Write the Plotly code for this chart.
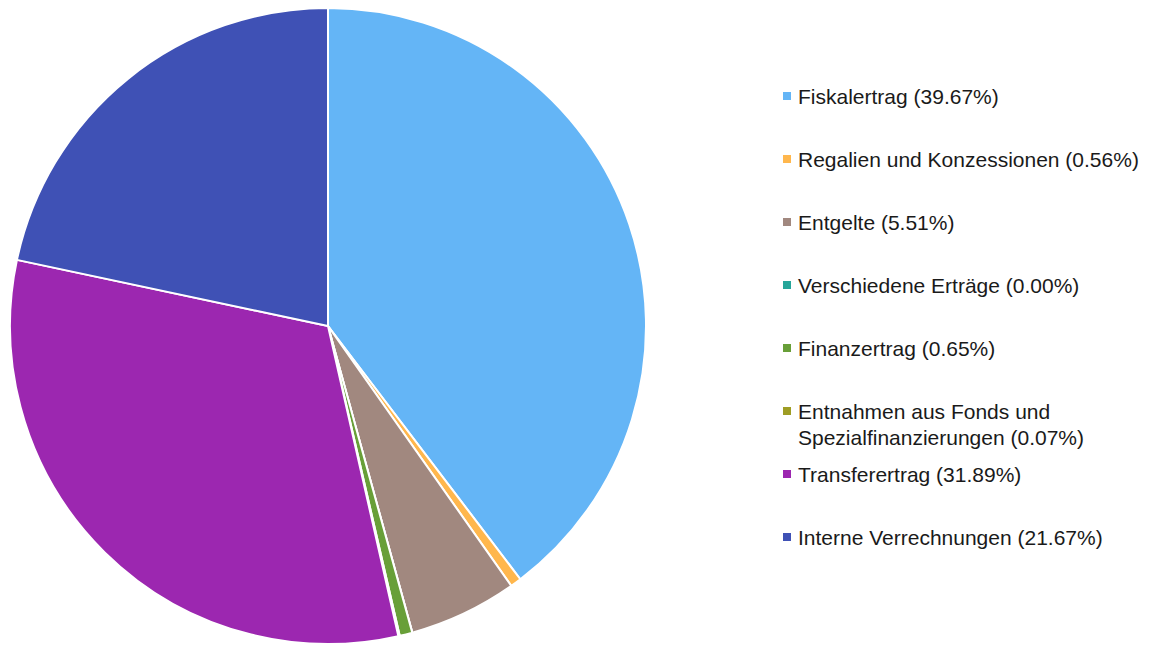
import plotly.graph_objects as go

categories = [
    "Fiskalertrag",
    "Regalien und Konzessionen",
    "Entgelte",
    "Verschiedene Erträge",
    "Finanzertrag",
    "Entnahmen aus Fonds und\nSpezialfinanzierungen",
    "Transferertrag",
    "Interne Verrechnungen",
]
values = [39.67, 0.56, 5.51, 0.00, 0.65, 0.07, 31.89, 21.67]
colors = ["#64B5F6", "#FFB74D", "#A1887F", "#26A69A", "#689F38", "#9E9D24", "#9C27B0", "#3F51B5"]

# the page body has an 8px margin, so the figure starts at (8, 8) on screen
OFF = 8
W, H = 1157 - OFF, 645 - OFF


def px_x(x):
    return (x - OFF) / W


def px_y(y):
    return 1 - (y - OFF) / H


fig = go.Figure()
fig.add_trace(go.Pie(
    labels=[c.replace("\n", " ") for c in categories],
    values=values,
    marker=dict(colors=colors, line=dict(color="white", width=2)),
    sort=False,
    direction="clockwise",
    rotation=0,
    textinfo="none",
    hoverinfo="label+percent",
    showlegend=False,
    domain=dict(x=[px_x(10), px_x(646)], y=[px_y(644), px_y(8)]),
))

annotations = []
shapes = []
y0 = 96
step = 63
line_gap = 26
for i, (cat, val, col) in enumerate(zip(categories, values, colors)):
    yc = y0 + step * i
    shapes.append(dict(
        type="rect", xref="paper", yref="paper",
        x0=px_x(783), x1=px_x(791),
        y0=px_y(yc - 4), y1=px_y(yc + 4),
        fillcolor=col, line=dict(width=0),
    ))
    lines = cat.split("\n")
    lines[-1] = f"{lines[-1]} ({val:.2f}%)"
    for j, ln in enumerate(lines):
        annotations.append(dict(
            x=px_x(796), y=px_y(yc + line_gap * j),
            xref="paper", yref="paper",
            xanchor="left", yanchor="middle",
            text=ln, showarrow=False,
            font=dict(family="Liberation Sans", size=21, color="#1a1a1a"),
        ))

fig.update_layout(
    width=W, height=H,
    margin=dict(l=0, r=0, t=0, b=0),
    paper_bgcolor="white",
    plot_bgcolor="white",
    annotations=annotations,
    shapes=shapes,
)

fig.write_html("out.html")
